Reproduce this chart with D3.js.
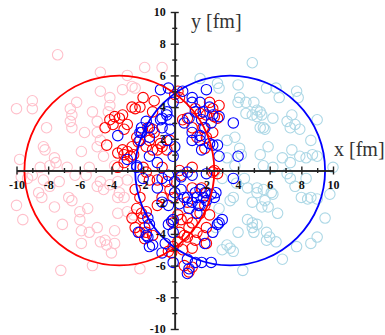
<!DOCTYPE html>
<html>
<head>
<meta charset="utf-8">
<script src="https://cdn.jsdelivr.net/npm/d3@7"></script>
<style>
  html, body { margin: 0; padding: 0; background: #fff; }
  svg { display: block; }
</style>
</head>
<body>
<div id="chart"></div>
<script>
// spectators of nucleus A (left) and nucleus B (right), in fm
var specA = [
  [-7.4,7.3],[-4.7,6.2],[-3.0,6.0],[-1.9,6.5],[-0.8,6.5],[-10.0,3.9],[-9.0,4.4],[-9.0,3.9],
  [-6.2,4.3],[-6.6,3.9],[-6.5,3.5],[-6.6,3.1],[-5.2,3.7],[-4.7,5.0],[-4.1,4.6],[-4.1,4.1],
  [-4.2,3.7],[-3.3,5.1],[-2.7,5.3],[-2.5,5.2],[-8.1,2.7],[-6.5,2.7],[-5.7,2.4],[-4.9,3.1],
  [-4.9,2.4],[-8.3,1.5],[-8.2,1.3],[-5.9,1.2],[-4.9,1.5],[-4.7,1.9],[-4.5,0.9],[-9.8,0.7],
  [-7.6,0.8],[-7.5,0.5],[-7.9,0.3],[-8.5,0.2],[-6.8,0.2],[-5.4,0.2],[-3.8,0.3],
  [-9.3,-0.5],[-9.0,-0.3],[-8.3,-0.6],[-7.3,-0.7],[-6.3,-0.3],[-5.6,-0.3],[-4.7,-0.7],
  [-4.1,-0.9],[-3.6,-0.7],[-3.0,-0.6],[-3.5,-1.4],[-3.2,-1.7],[-3.6,-1.7],[-10.0,-2.2],
  [-9.6,-3.1],[-8.6,-1.4],[-8.4,-1.7],[-7.6,-2.3],[-7.1,-3.4],[-6.7,-1.7],[-6.5,-1.9],
  [-6.0,-2.6],[-6.0,-3.1],[-5.9,-3.8],[-5.9,-4.6],[-5.5,-2.4],[-5.4,-3.9],[-4.9,-3.6],
  [-4.7,-4.5],[-4.4,-4.4],[-4.3,-4.7],[-4.0,-5.2],[-3.8,-3.8],[-3.8,-4.6],[-3.6,-2.7],
  [-3.0,-2.6],[-2.6,-2.8],[-7.2,-6.3],[-5.2,-6.0],[-2.2,-6.2],[-9.7,-0.4],[-7.9,-1.0],
  [-4.9,-1.0],[-4.5,-1.2]
];
var specB = [
  [4.9,6.8],[1.6,5.8],[2.7,5.5],[2.8,5.2],[4.0,5.4],[4.1,4.6],[4.0,4.3],[4.5,4.3],[4.5,3.6],
  [5.0,4.3],[5.2,3.8],[5.4,3.7],[5.5,3.5],[5.2,3.4],[4.9,3.5],[5.8,5.2],[6.4,5.2],[6.6,4.6],
  [6.2,3.3],[5.6,2.7],[5.7,2.6],[5.4,2.7],[7.7,5.0],[7.8,4.6],[7.4,3.5],[7.1,3.1],[7.6,2.9],
  [7.9,2.6],[7.3,2.7],[9.0,3.2],[8.6,1.9],[7.4,1.3],[6.8,0.8],[7.9,0.9],[8.3,0.8],[8.7,1.0],
  [9.0,0.9],[7.3,0.5],[5.9,1.5],[5.4,1.0],[4.1,1.4],[4.2,1.0],[3.3,1.9],[3.8,2.1],[3.3,0.8],
  [3.8,0.3],[5.6,0.3],[6.2,0.2],[10.0,0.2],
  [3.7,-1.7],[3.5,-1.9],[4.6,-1.1],[5.2,-1.1],[5.2,-1.4],[6.1,-1.4],[5.7,-1.9],[6.2,-1.5],
  [4.9,-2.0],[5.5,-2.3],[5.9,-2.3],[6.5,-2.7],[7.3,-0.5],[8.0,-1.7],[8.4,-1.8],[8.6,-1.7],
  [9.0,-1.8],[9.8,-1.5],[9.5,-3.0],[7.6,-1.0],[7.1,-0.2],[8.3,-0.5],[3.9,-0.8],[4.4,-0.5],
  [3.0,-0.5],[4.6,-3.1],[4.9,-3.3],[5.2,-3.4],[4.9,-3.6],[4.0,-3.9],[5.0,-3.9],[5.8,-3.9],
  [6.0,-4.2],[5.8,-4.4],[6.4,-4.5],[3.3,-4.7],[3.5,-4.9],[3.0,-5.0],[3.7,-5.1],[4.3,-6.3],
  [6.8,-5.6],[8.6,-4.6],[9.0,-4.2],[7.7,-4.8],[2.6,-3.6],[2.8,-2.4],[5.6,-1.2]
];
// participants
var partA = [
  [-2.0,4.6],[-2.2,4.0],[-1.3,4.4],[-1.4,3.7],[-2.5,3.9],[-3.3,3.5],[-3.8,3.4],[-3.5,3.3],
  [-4.1,3.2],[-3.9,2.9],[-4.4,2.7],[-3.0,2.9],[-3.2,2.6],[-1.7,2.7],[-1.4,2.6],[-2.4,2.1],
  [-4.3,1.6],[-3.3,1.3],[-3.0,1.2],[-2.7,1.5],[-2.8,0.9],[-2.6,1.0],[-1.8,1.5],[-1.1,1.3],
  [-0.8,1.5],[-0.5,1.3],[-0.3,1.9],[-3.6,0.2],[-3.2,0.5],[-2.0,0.2],[-0.8,0.2],
  [0.0,4.8],[0.2,5.0],[0.3,4.6],[1.3,3.9],[1.6,3.6],[2.2,4.3],[2.4,3.9],[2.7,3.3],[2.8,4.1],
  [0.8,3.3],[0.5,3.2],[2.0,3.5],[2.4,2.4],[-2.7,4.0],[-3.6,1.1],[-3.2,1.0],[-2.3,1.8],
  [-1.3,2.4],[-1.6,1.9],[-0.9,1.7],[-1.4,1.3],[2.5,3.4],[1.8,2.7],[1.1,2.7],[1.4,2.1],
  [2.0,2.1],[1.9,1.4],[1.1,0.2],[2.5,0.0],[0.3,0.0],
  [-1.8,-0.1],[-2.5,-1.2],[-2.2,-1.7],[-2.4,-2.4],[-1.8,-2.6],[-2.0,-3.0],[-1.9,-3.6],
  [-1.4,-4.1],[-1.6,-0.6],[-1.1,-0.6],[-0.5,-0.7],[-0.8,-1.7],[-0.3,-1.2],[-0.1,-1.7],
  [0.2,-2.8],[-0.1,-3.3],[0.4,-3.1],[0.8,-3.0],[1.1,-3.3],[0.9,-3.6],[1.4,-3.9],[0.6,-4.1],
  [0.2,-4.5],[-0.1,-4.8],[-0.4,-5.1],[1.8,-4.1],[2.0,-3.6],[2.2,-2.8],[1.6,-2.7],[2.0,-4.6],
  [1.1,-4.9],[0.9,-6.4],[0.6,-6.0],[1.1,-1.1],[1.7,-1.1],[2.0,-1.4],[1.9,-2.2],[0.8,-2.0],
  [0.4,-0.3],[2.4,-0.1],[2.7,-0.2],[-1.1,-2.2],[-2.7,-3.0],[-2.1,-2.7],[-1.8,-3.9],
  [-2.2,-3.9],[-1.9,-4.3],[-2.5,-3.6],[0.5,-5.0],[-0.2,-5.2],[1.1,-6.1],[0.3,-3.9],
  [0.8,-4.2],[1.3,-4.4]
];
var partB = [
  [-0.9,5.1],[-0.4,5.2],[-0.5,3.5],[-0.9,3.2],[-0.8,2.7],[-0.3,2.6],[-1.8,3.1],[-2.1,2.7],
  [-1.6,2.1],[-2.2,1.9],[-2.1,2.4],[-3.6,2.2],[-3.0,0.7],[-2.4,0.3],[-1.6,0.9],[-1.1,0.5],
  [-0.1,0.9],[0.0,1.5],[-0.5,1.9],[0.5,5.0],[1.1,4.6],[-0.1,4.3],[-0.5,3.7],[-0.8,3.3],
  [-0.3,3.2],[1.6,4.3],[1.3,3.7],[1.8,3.7],[2.2,4.0],[0.9,3.3],[1.7,3.2],[2.3,3.0],[2.8,3.4],
  [0.6,3.0],[1.1,2.4],[1.6,2.2],[1.9,2.7],[-1.6,2.7],[-2.2,2.4],[2.0,5.1],[1.1,4.3],
  [1.1,1.9],[1.6,1.9],[2.2,1.7],[2.4,1.6],[1.7,1.3],[2.4,3.5],[3.7,3.0],[2.7,1.6],[2.8,0.9],
  [4.0,0.9],
  [-2.4,0.2],[-2.0,-0.5],[-1.1,-1.1],[-0.8,-0.5],[-0.4,-0.3],[0.0,-0.7],[0.0,-1.4],
  [0.4,-1.2],[0.6,-1.7],[0.3,-2.1],[-0.4,-2.2],[-0.8,-2.0],[-0.2,-3.2],[-0.4,-3.4],
  [-1.7,-3.0],[-1.6,-3.4],[-2.3,-3.9],[-1.8,-4.1],[-1.6,-4.8],[-0.6,-4.6],[-0.8,-5.2],
  [0.8,-5.6],[0.9,-6.2],[1.3,-5.8],[1.7,-5.8],[0.8,-6.5],[0.8,-1.7],[1.3,-1.4],[1.4,-1.7],
  [1.6,-1.2],[1.8,-1.7],[2.0,-1.9],[1.1,-2.0],[1.6,-2.2],[1.9,-1.4],[2.3,-1.5],[2.6,-1.4],
  [2.5,-1.7],[3.0,-3.1],[2.7,-3.4],[2.4,-3.9],[1.9,-4.6],[3.7,-0.5],[1.1,-0.3],[0.8,-0.1],
  [2.0,-0.2],[0.4,-0.4],[-1.7,-4.2],[-1.4,-4.7],[-0.1,-3.9],[-0.1,-3.1],[2.8,-3.3],
  [2.3,-5.8],[-0.1,-5.8],[0.9,-2.4],[1.5,-2.2],[1.4,-2.7]
];
// nuclei: centre x and radius
var nucleiX = [-3.5, 3.5];
var nucleiR = [6, 6];
var nucleonR = 0.33;
var majorTicks = [-10, -8, -6, -4, -2, 0, 2, 4, 6, 8, 10];
var minorTicks = [-9, -7, -5, -3, -1, 1, 3, 5, 7, 9];

var W = 385, H = 335;
var FONT = '"Liberation Serif", "Times New Roman", serif';
var svg = d3.select('#chart').append('svg').attr('width', W).attr('height', H);

var x = d3.scaleLinear().domain([-10, 10]).range([16.5, 333]);
var y = d3.scaleLinear().domain([-10, 10]).range([329, 12]);
var k = x(1) - x(0);

function drawSet (data, color) {
	svg.append('g').selectAll('circle').data(data).enter()
		.append('circle')
		.attr('cx', function (d) { return x(d[0]); })
		.attr('cy', function (d) { return y(d[1]); })
		.attr('r', nucleonR * k)
		.attr('fill', 'none')
		.attr('stroke', color)
		.attr('stroke-width', 1.1);
}

drawSet(specA, 'pink');
drawSet(specB, 'lightblue');
drawSet(partA, '#ff0000');
drawSet(partB, '#0000ff');

svg.append('g').selectAll('circle').data(nucleiX).enter()
	.append('circle')
	.attr('cx', function (d) { return x(d); })
	.attr('cy', y(0))
	.attr('r', function (d, i) { return nucleiR[i] * k; })
	.attr('fill', 'none')
	.attr('stroke', function (d, i) { return i === 0 ? '#ff0000' : '#0000ff'; })
	.attr('stroke-width', 1.8);

// axes through origin
var axisColor = '#222';
var xAxis = svg.append('g').attr('transform', 'translate(0,' + y(0) + ')')
	.call(d3.axisBottom(x).tickValues(majorTicks).tickSize(4).tickSizeOuter(0)
		.tickFormat(function (d) { return d === 0 ? '' : d; }));
xAxis.selectAll('.tick line').attr('y1', -4);
xAxis.selectAll('.tick text').attr('y', 10).attr('dy', '0.71em');
svg.append('g').attr('transform', 'translate(0,' + y(0) + ')')
	.call(d3.axisBottom(x).tickValues(minorTicks).tickSize(2.5).tickSizeOuter(0).tickFormat(''))
	.selectAll('.tick line').attr('y1', -2.5);

var yAxis = svg.append('g').attr('transform', 'translate(' + x(0) + ',0)')
	.call(d3.axisLeft(y).tickValues(majorTicks).tickSize(4).tickSizeOuter(0)
		.tickFormat(function (d) { return d === 0 ? '' : d; }));
yAxis.selectAll('.tick line').attr('x1', 4);
yAxis.selectAll('.tick text').attr('x', -9);
svg.append('g').attr('transform', 'translate(' + x(0) + ',0)')
	.call(d3.axisLeft(y).tickValues(minorTicks).tickSize(2.5).tickSizeOuter(0).tickFormat(''))
	.selectAll('.tick line').attr('x1', 2.5);

xAxis.attr('font-family', FONT).attr('font-size', 12).attr('font-weight', 'bold');
yAxis.attr('font-family', FONT).attr('font-size', 12).attr('font-weight', 'bold');
svg.selectAll('.domain').attr('stroke', axisColor).attr('stroke-width', 1.6);
svg.selectAll('.tick line').attr('stroke', axisColor).attr('stroke-width', 1.4);
svg.selectAll('.tick text')
	.attr('fill', '#111')
	.style('font-family', FONT)
	.style('font-weight', 'bold')
	.style('font-size', '12px');

svg.append('text').attr('x', 334).attr('y', 156)
	.style('font-family', FONT).style('font-size', '20px')
	.attr('fill', '#333').text('x [fm]');
svg.append('text').attr('x', 191).attr('y', 28)
	.style('font-family', FONT).style('font-size', '20px')
	.attr('fill', '#333').text('y [fm]');
</script>
</body>
</html>
